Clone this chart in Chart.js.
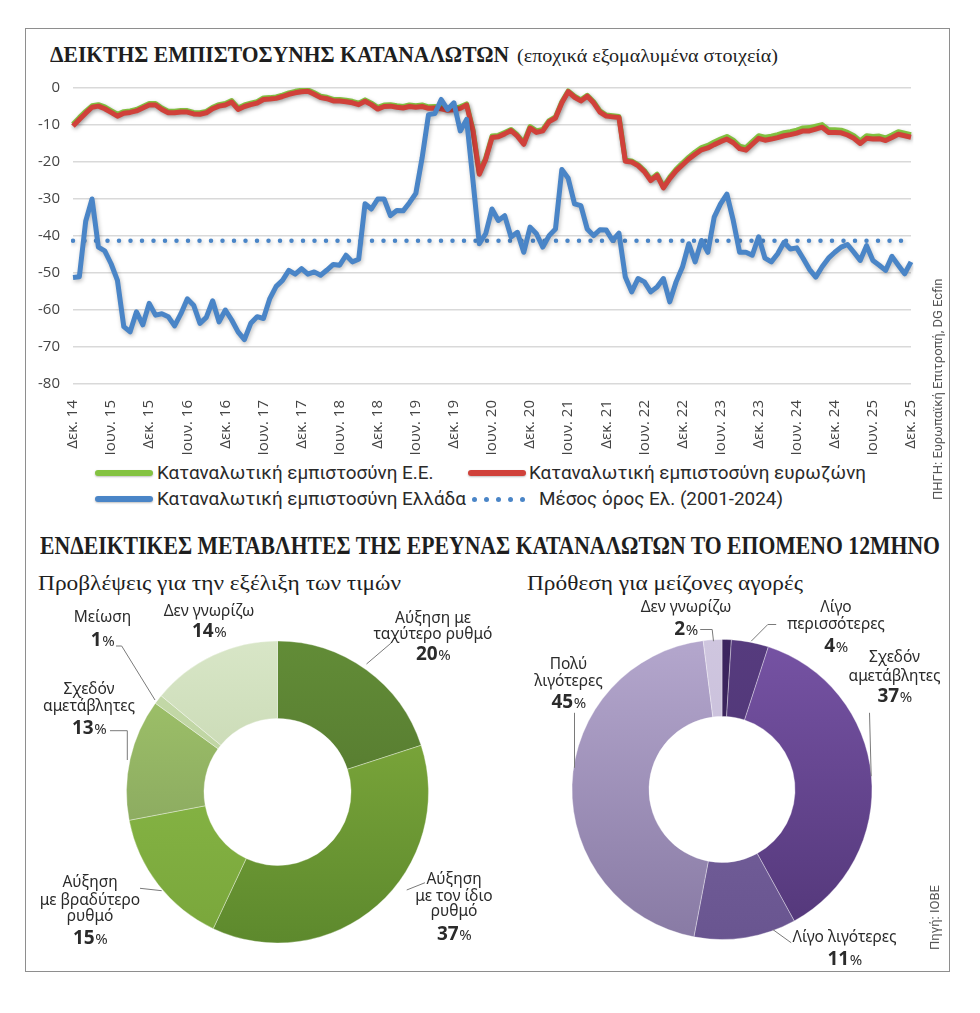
<!DOCTYPE html>
<html lang="el">
<head>
<meta charset="utf-8">
<title>Δείκτης εμπιστοσύνης καταναλωτών</title>
<script src="https://cdn.jsdelivr.net/npm/chart.js@4.4.1/dist/chart.umd.min.js"></script>
<style>
  html, body { margin: 0; padding: 0; background: #fff; }
  body { width: 980px; height: 1013px; position: relative; overflow: hidden; color: #222; }
  .abs { position: absolute; white-space: nowrap; }
  .fit { display: inline-block; transform-origin: left center; }
  #frame { position: absolute; left: 25px; top: 28px; width: 925px; height: 944px; border: 1.5px solid #8e8e8e; box-sizing: border-box; }
  .serif { font-family: "Liberation Serif", serif; color: #1e1e1e; }
  .legend { font-family: "Roboto", sans-serif; font-size: 19px; line-height: 22px; color: #2a2a2a; }
  .bar { position: absolute; height: 6px; border-radius: 3px; box-shadow: 0 1px 2px rgba(0,0,0,0.25); }
  .dot { position: absolute; width: 5px; height: 5px; border-radius: 50%; background: #4a85c7; }
  .src { position: absolute; white-space: nowrap; font-family: "Roboto", sans-serif; font-size: 13px; line-height: 15px; color: #555; transform: rotate(-90deg); transform-origin: left top; }
  canvas { position: absolute; }
</style>
</head>
<body>
<div id="frame"></div>

<div class="abs serif" style="left:50px;top:39px;line-height:30px"><span id="t1" class="fit" style="font-weight:bold;font-size:24px">ΔΕΙΚΤΗΣ ΕΜΠΙΣΤΟΣΥΝΗΣ ΚΑΤΑΝΑΛΩΤΩΝ</span></div>
<div class="abs serif" style="left:517px;top:40.5px;line-height:30px"><span id="t1b" class="fit" style="font-size:19px">(εποχικά εξομαλυμένα στοιχεία)</span></div>

<canvas id="lineChart" width="907" height="389" style="left:30px;top:66px"></canvas>

<div class="src" style="left:930px;top:500px"><span id="src1" class="fit">ΠΗΓΗ: Ευρωπαϊκή Επιτροπή, DG Ecfin</span></div>

<!-- legend -->
<div class="bar" style="left:95px;top:470px;width:58px;background:#84c341"></div>
<div class="abs legend" style="left:157px;top:462px"><span id="lg1" class="fit">Καταναλωτική εμπιστοσύνη Ε.Ε.</span></div>
<div class="bar" style="left:468px;top:470px;width:58px;background:#d0413a"></div>
<div class="abs legend" style="left:529px;top:462px"><span id="lg2" class="fit">Καταναλωτική εμπιστοσύνη ευρωζώνη</span></div>
<div class="bar" style="left:95px;top:496px;width:58px;background:#4a85c7"></div>
<div class="abs legend" style="left:157px;top:488px"><span id="lg3" class="fit">Καταναλωτική εμπιστοσύνη Ελλάδα</span></div>
<div class="dot" style="left:472px;top:496.5px"></div>
<div class="dot" style="left:484px;top:496.5px"></div>
<div class="dot" style="left:496px;top:496.5px"></div>
<div class="dot" style="left:508px;top:496.5px"></div>
<div class="dot" style="left:520px;top:496.5px"></div>
<div class="abs legend" style="left:539px;top:488px"><span id="lg4" class="fit">Μέσος όρος Ελ. (2001-2024)</span></div>

<div class="abs serif" style="left:40px;top:531px;line-height:30px"><span id="h2" class="fit" style="font-weight:bold;font-size:26px">ΕΝΔΕΙΚΤΙΚΕΣ ΜΕΤΑΒΛΗΤΕΣ ΤΗΣ ΕΡΕΥΝΑΣ ΚΑΤΑΝΑΛΩΤΩΝ ΤΟ ΕΠΟΜΕΝΟ 12ΜΗΝΟ</span></div>
<div class="abs serif" style="left:38px;top:568px;line-height:30px"><span id="s1" class="fit" style="font-size:22px">Προβλέψεις για την εξέλιξη των τιμών</span></div>
<div class="abs serif" style="left:527px;top:568px;line-height:30px"><span id="s2" class="fit" style="font-size:22px">Πρόθεση για μείζονες αγορές</span></div>

<canvas id="priceChart" width="480" height="375" style="left:25px;top:595px"></canvas>
<canvas id="buyChart" width="455" height="380" style="left:495px;top:595px"></canvas>

<div class="src" style="left:927px;top:950px"><span id="src2" class="fit">Πηγή: ΙΟΒΕ</span></div>

<script>
// months Dec 2014 - Dec 2025
const monthNames = ['Ιαν.','Φεβ.','Μαρ.','Απρ.','Μαΐ.','Ιουν.','Ιουλ.','Αυγ.','Σεπ.','Οκτ.','Νοε.','Δεκ.'];
const categories = ['Δεκ. 14'];
for (let y = 15; y <= 25; y++) monthNames.forEach(m => categories.push(m + ' ' + y));

const tickLabels = ['Δεκ. 14','Ιουν. 15','Δεκ. 15','Ιουν. 16','Δεκ. 16','Ιουν. 17','Δεκ. 17','Ιουν. 18','Δεκ. 18',
  'Ιουν. 19','Δεκ. 19','Ιουν. 20','Δεκ. 20','Ιουν. 21','Δεκ. 21','Ιουν. 22','Δεκ. 22','Ιουν. 23','Δεκ. 23',
  'Ιουν. 24','Δεκ. 24','Ιουν. 25','Δεκ. 25'];

// Καταναλωτική εμπιστοσύνη Ελλάδα
const greece = [-51.2,
  -51, -36, -30, -43, -44, -47.5, -52, -64.5, -65.9, -60.5, -64, -58.2,
  -61.4, -61, -61.8, -64.3, -61, -57, -58.7, -63.6, -62, -57.5, -63.2, -60,
  -62.7, -65.9, -68, -63.6, -61.8, -62.3, -56.9, -53.6, -52, -49.3, -50.3, -48.8,
  -50.3, -49.7, -50.6, -49.2, -47.7, -47.9, -45.2, -47, -46.3, -31.3, -32.7, -30,
  -30, -34.5, -33.1, -33.2, -31, -28.5, -18.8, -7.2, -6.9, -3.1, -5.8, -4,
  -11.6, -8.5, -25, -42.1, -39.4, -32.7, -35.8, -34.5, -40.3, -39, -44.4, -37.6,
  -39.4, -43, -39.9, -38.1, -22, -24.4, -31.3, -31.8, -38.1, -39.9, -38.3, -38.4,
  -41.2, -39.2, -51.1, -55.1, -51.5, -52.4, -55.1, -53.8, -51.5, -57.8, -52.4, -48.4,
  -42.1, -47, -41.2, -44.4, -34.9, -31.3, -28.7, -35.8, -44.4, -44.4, -45.2, -40.2,
  -46, -47, -44.8, -41.7, -43.5, -43.2, -46, -49, -51.1, -48.3, -46, -44.4,
  -43, -42.3, -44.4, -46.6, -42.6, -46.6, -47.9, -49.3, -45.5, -47.9, -50.2, -47];

// Καταναλωτική εμπιστοσύνη ευρωζώνη
const euroArea = [-10.3,
  -8.5, -6.8, -5.2, -4.9, -5.6, -6.6, -7.6, -6.8, -6.6, -6.2, -5.4, -4.6,
  -4.6, -5.8, -6.7, -6.7, -6.5, -6.5, -7.0, -7.1, -6.7, -5.6, -4.9, -4.6,
  -3.8, -5.8, -5.0, -4.5, -4.1, -3.1, -3.0, -2.8, -2.3, -1.7, -1.3, -1.0,
  -0.9, -1.7, -2.6, -2.9, -3.5, -3.5, -3.7, -4.0, -4.5, -3.6, -4.5, -5.7,
  -5.0, -4.9, -5.2, -5.4, -5.0, -5.2, -5.0, -5.5, -5.4, -5.6, -6.0, -5.9,
  -5.5, -4.6, -11.6, -23.3, -19.3, -13.4, -13.2, -12.4, -11.5, -13.0, -15.2, -10.8,
  -12.0, -11.6, -9.1, -8.1, -4.0, -1.0, -2.5, -3.5, -2.2, -4.0, -6.5, -7.6,
  -7.8, -8.0, -19.8, -20.0, -21.0, -22.6, -25.0, -23.6, -27.0, -24.5, -22.4, -20.8,
  -19.2, -17.9, -16.7, -16.2, -15.3, -14.5, -13.8, -14.8, -16.4, -16.8, -15.2, -13.6,
  -14.1, -13.8, -13.4, -12.9, -12.6, -12.2, -11.6, -11.6, -11.1, -10.6, -12.0, -12.0,
  -12.1, -12.7, -13.6, -15.0, -13.6, -13.8, -13.7, -14.2, -13.4, -12.5, -12.9, -13.3];

// Καταναλωτική εμπιστοσύνη Ε.Ε.
const eu = [-9.8,
  -8.0, -6.3, -4.8, -4.5, -5.1, -6.1, -7.1, -6.4, -6.2, -5.8, -5.0, -4.2,
  -4.2, -5.4, -6.3, -6.3, -6.1, -6.1, -6.6, -6.7, -6.3, -5.2, -4.5, -4.2,
  -3.4, -5.4, -4.6, -4.1, -3.7, -2.7, -2.6, -2.4, -1.9, -1.3, -0.9, -0.6,
  -0.5, -1.3, -2.2, -2.5, -3.1, -3.1, -3.3, -3.6, -4.1, -3.2, -4.1, -5.2,
  -4.6, -4.5, -4.8, -5.0, -4.6, -4.8, -4.6, -5.1, -5.0, -5.2, -5.6, -5.5,
  -5.1, -4.3, -11.3, -23.0, -19.0, -13.0, -12.8, -12.0, -11.2, -12.7, -14.8, -10.4,
  -11.6, -11.2, -8.8, -7.8, -3.7, -0.8, -2.2, -3.2, -2.0, -3.7, -6.2, -7.3,
  -7.5, -7.7, -19.5, -19.7, -20.7, -22.3, -24.7, -23.3, -26.7, -24.1, -22.0, -20.3,
  -18.7, -17.3, -16.1, -15.5, -14.6, -13.8, -13.1, -14.1, -15.7, -16.1, -14.5, -12.9,
  -13.3, -13.0, -12.6, -12.1, -11.8, -11.4, -10.8, -10.7, -10.3, -9.9, -11.3, -11.3,
  -11.4, -12.0, -12.9, -14.3, -12.9, -13.1, -13.0, -13.5, -12.7, -11.8, -12.2, -12.6];

// Μέσος όρος Ελλάδας 2001-2024
const greeceAvg = -41.3;

// donuts
const priceCats = ['Αύξηση με ταχύτερο ρυθμό','Αύξηση με τον ίδιο ρυθμό','Αύξηση με βραδύτερο ρυθμό','Σχεδόν αμετάβλητες','Μείωση','Δεν γνωρίζω'];
const priceValues = [20, 37, 15, 13, 1, 14];
const buyCats = ['Πολύ περισσότερες','Λίγο περισσότερες','Σχεδόν αμετάβλητες','Λίγο λιγότερες','Πολύ λιγότερες','Δεν γνωρίζω'];
const buyValues = [1, 4, 37, 11, 45, 2];

const priceTop = ['#628c37','#86b13f','#8fbf4b','#a3c86b','#c6dbab','#d8e6c7'];
const priceBot = ['#4d6d2a','#5d892d','#79a63b','#7e995a','#b4cb95','#b7ca9d'];
const buyTop = ['#3c2560','#563b7e','#7653a4','#7d69a4','#b4a7cd','#cfc6df'];
const buyBot = ['#34204f','#4b3370','#533779','#695590','#887aa4','#c2b7d6'];

// text fitting helper
function fitWidth(id, w) {
  const el = document.getElementById(id);
  const k = w / el.getBoundingClientRect().width;
  el.style.transform = 'scaleX(' + k + ')';
  return k;
}
fitWidth('t1', 459);
fitWidth('t1b', 261);
fitWidth('h2', 900);
fitWidth('s1', 363);
fitWidth('s2', 276);
const lk = fitWidth('lg2', 337);
['lg1','lg3','lg4'].forEach(id => { document.getElementById(id).style.transform = 'scaleX(' + lk + ')'; });

// soft shadow under the lines
const lineShadow = {
  id: 'lineShadow',
  beforeDatasetDraw(chart) {
    const c = chart.ctx;
    c.save();
    c.shadowColor = 'rgba(0,0,0,0.25)';
    c.shadowBlur = 4;
    c.shadowOffsetX = 1;
    c.shadowOffsetY = 2;
  },
  afterDatasetDraw(chart) { chart.ctx.restore(); }
};

new Chart(document.getElementById('lineChart'), {
  type: 'line',
  data: {
    labels: categories,
    datasets: [
      { label: 'Καταναλωτική εμπιστοσύνη Ελλάδα', data: greece, borderColor: '#4a85c7', borderWidth: 5, order: 0 },
      { label: 'Μέσος όρος Ελ. (2001-2024)', data: categories.map(() => greeceAvg), borderColor: '#4a85c7',
        borderWidth: 4.5, borderDash: [0, 11.5], borderCapStyle: 'round', order: 1 },
      { label: 'Καταναλωτική εμπιστοσύνη ευρωζώνη', data: euroArea, borderColor: '#d0413a', borderWidth: 5, order: 2 },
      { label: 'Καταναλωτική εμπιστοσύνη Ε.Ε.', data: eu, borderColor: '#84c341', borderWidth: 5, order: 3 }
    ]
  },
  options: {
    responsive: false,
    animation: false,
    elements: {
      point: { radius: 0 },
      line: { tension: 0, borderJoinStyle: 'round', fill: false }
    },
    layout: { padding: { top: 2.4, right: 11, left: 0, bottom: 0 } },
    plugins: { legend: { display: false }, tooltip: { enabled: false } },
    scales: {
      x: {
        grid: { display: false },
        border: { display: false },
        ticks: {
          autoSkip: false, maxRotation: 90, minRotation: 90, padding: 8,
          color: '#444', font: { family: 'Open Sans', size: 15 },
          callback: (v, i) => (i % 6 === 0 ? tickLabels[i / 6] : '')
        },
        afterFit: s => { s.height = 71; }
      },
      y: {
        min: -80, max: 0,
        grid: { color: '#d9d9d9', lineWidth: 1.5, drawTicks: false },
        border: { display: false },
        ticks: { stepSize: 10, padding: 13, color: '#444', font: { family: 'Open Sans', size: 15 } },
        afterFit: s => { s.width = 43; }
      }
    }
  },
  plugins: [lineShadow]
});

// labels with leader lines, positions relative to the donut centre
const donutLabels = {
  id: 'donutLabels',
  afterDraw(chart, args, opts) {
    const arc = chart.getDatasetMeta(0).data[0];
    const cx = arc.x, cy = arc.y;
    const values = chart.data.datasets[0].data;
    const c = chart.ctx;
    c.save();
    opts.items.forEach(it => {
      if (it.line) {
        c.strokeStyle = '#7a7a7a';
        c.lineWidth = 1;
        c.beginPath();
        it.line.forEach((p, k) => (k ? c.lineTo(cx + p[0], cy + p[1]) : c.moveTo(cx + p[0], cy + p[1])));
        c.stroke();
      }
      c.fillStyle = '#2b2b2b';
      c.textAlign = 'center';
      c.textBaseline = 'middle';
      c.font = '15.5px "Noto Sans"';
      it.name.forEach((t, k) => c.fillText(t, cx + it.dx, cy + it.y[k]));
      const num = String(values[it.i]);
      c.font = 'bold 19px "Noto Sans"';
      const w1 = c.measureText(num).width;
      c.font = '15px "Noto Sans"';
      const w2 = c.measureText('%').width;
      const x0 = cx + it.dx - (w1 + w2) / 2;
      const yb = cy + it.py + 7;
      c.textAlign = 'left';
      c.textBaseline = 'alphabetic';
      c.font = 'bold 19px "Noto Sans"';
      c.fillText(num, x0, yb);
      c.font = '15px "Noto Sans"';
      c.fillText('%', x0 + w1 + 0.5, yb);
    });
    c.restore();
  }
};

const priceLabels = [
  { i: 0, name: ['Αύξηση με', 'ταχύτερο ρυθμό'], dx: 155.5, y: [-173, -157], py: -139, line: [[114, -149.3], [89, -128]] },
  { i: 1, name: ['Αύξηση', 'με τον ίδιο', 'ρυθμό'], dx: 176.5, y: [88, 105, 120], py: 141, line: [[147.5, 90.7], [129.2, 98]] },
  { i: 2, name: ['Αύξηση', 'με βραδύτερο', 'ρυθμό'], dx: -187.5, y: [91, 108.7, 125], py: 144.7, line: [[-137.5, 96.3], [-115.8, 98.7]] },
  { i: 3, name: ['Σχεδόν', 'αμετάβλητες'], dx: -188.5, y: [-102, -85.3], py: -65.3, line: [[-167.5, -61.3], [-150.2, -61.3], [-150.2, -32]] },
  { i: 4, name: ['Μείωση'], dx: -175, y: [-174], py: -153, line: [[-161.5, -146], [-155.8, -146], [-122.5, -92]] },
  { i: 5, name: ['Δεν γνωρίζω'], dx: -68.5, y: [-180.3], py: -162 }
];
const buyLabels = [
  { i: 1, name: ['Λίγο', 'περισσότερες'], dx: 114, y: [-181.7, -165], py: -145, line: [[54.2, -165], [45.8, -165], [29.2, -148.3]] },
  { i: 2, name: ['Σχεδόν', 'αμετάβλητες'], dx: 172.5, y: [-131.7, -113.3], py: -95, line: [[147.5, -76.7], [149.2, -13.3]] },
  { i: 3, name: ['Λίγο λιγότερες'], dx: 122.5, y: [148.3], py: 168.3, line: [[69.2, 153.3], [50.8, 140]] },
  { i: 4, name: ['Πολύ', 'λιγότερες'], dx: -153.5, y: [-125, -108.3], py: -88.3, line: [[-147.5, -76.7], [-147.5, -21.7]] },
  { i: 5, name: ['Δεν γνωρίζω'], dx: -36, y: [-181.7], py: -161.7, line: [[-21.8, -160], [-9.8, -160], [-8.5, -148.3]] }
];

function sliceGradient(ctx, tops, bots) {
  const chart = ctx.chart;
  const area = chart.chartArea;
  const i = ctx.dataIndex;
  if (!area) return tops[i];
  const g = chart.ctx.createLinearGradient(0, area.top, 0, area.bottom);
  g.addColorStop(0, tops[i]);
  g.addColorStop(1, bots[i]);
  return g;
}

function makeDonut(id, cats, values, tops, bots, pad, items) {
  return new Chart(document.getElementById(id), {
    type: 'doughnut',
    data: {
      labels: cats,
      datasets: [{
        data: values,
        backgroundColor: ctx => sliceGradient(ctx, tops, bots),
        borderWidth: 1,
        borderColor: 'rgba(255,255,255,0.35)'
      }]
    },
    options: {
      responsive: false,
      animation: false,
      cutout: '48.7%',
      layout: { padding: pad },
      plugins: { legend: { display: false }, tooltip: { enabled: false }, donutLabels: { items: items } }
    },
    plugins: [donutLabels]
  });
}

makeDonut('priceChart', priceCats, priceValues, priceTop, priceBot,
  { left: 101, right: 76, top: 45.5, bottom: 26.5 }, priceLabels);
makeDonut('buyChart', buyCats, buyValues, buyTop, buyBot,
  { left: 76.5, right: 77.5, top: 44, bottom: 35 }, buyLabels);
</script>
</body>
</html>
